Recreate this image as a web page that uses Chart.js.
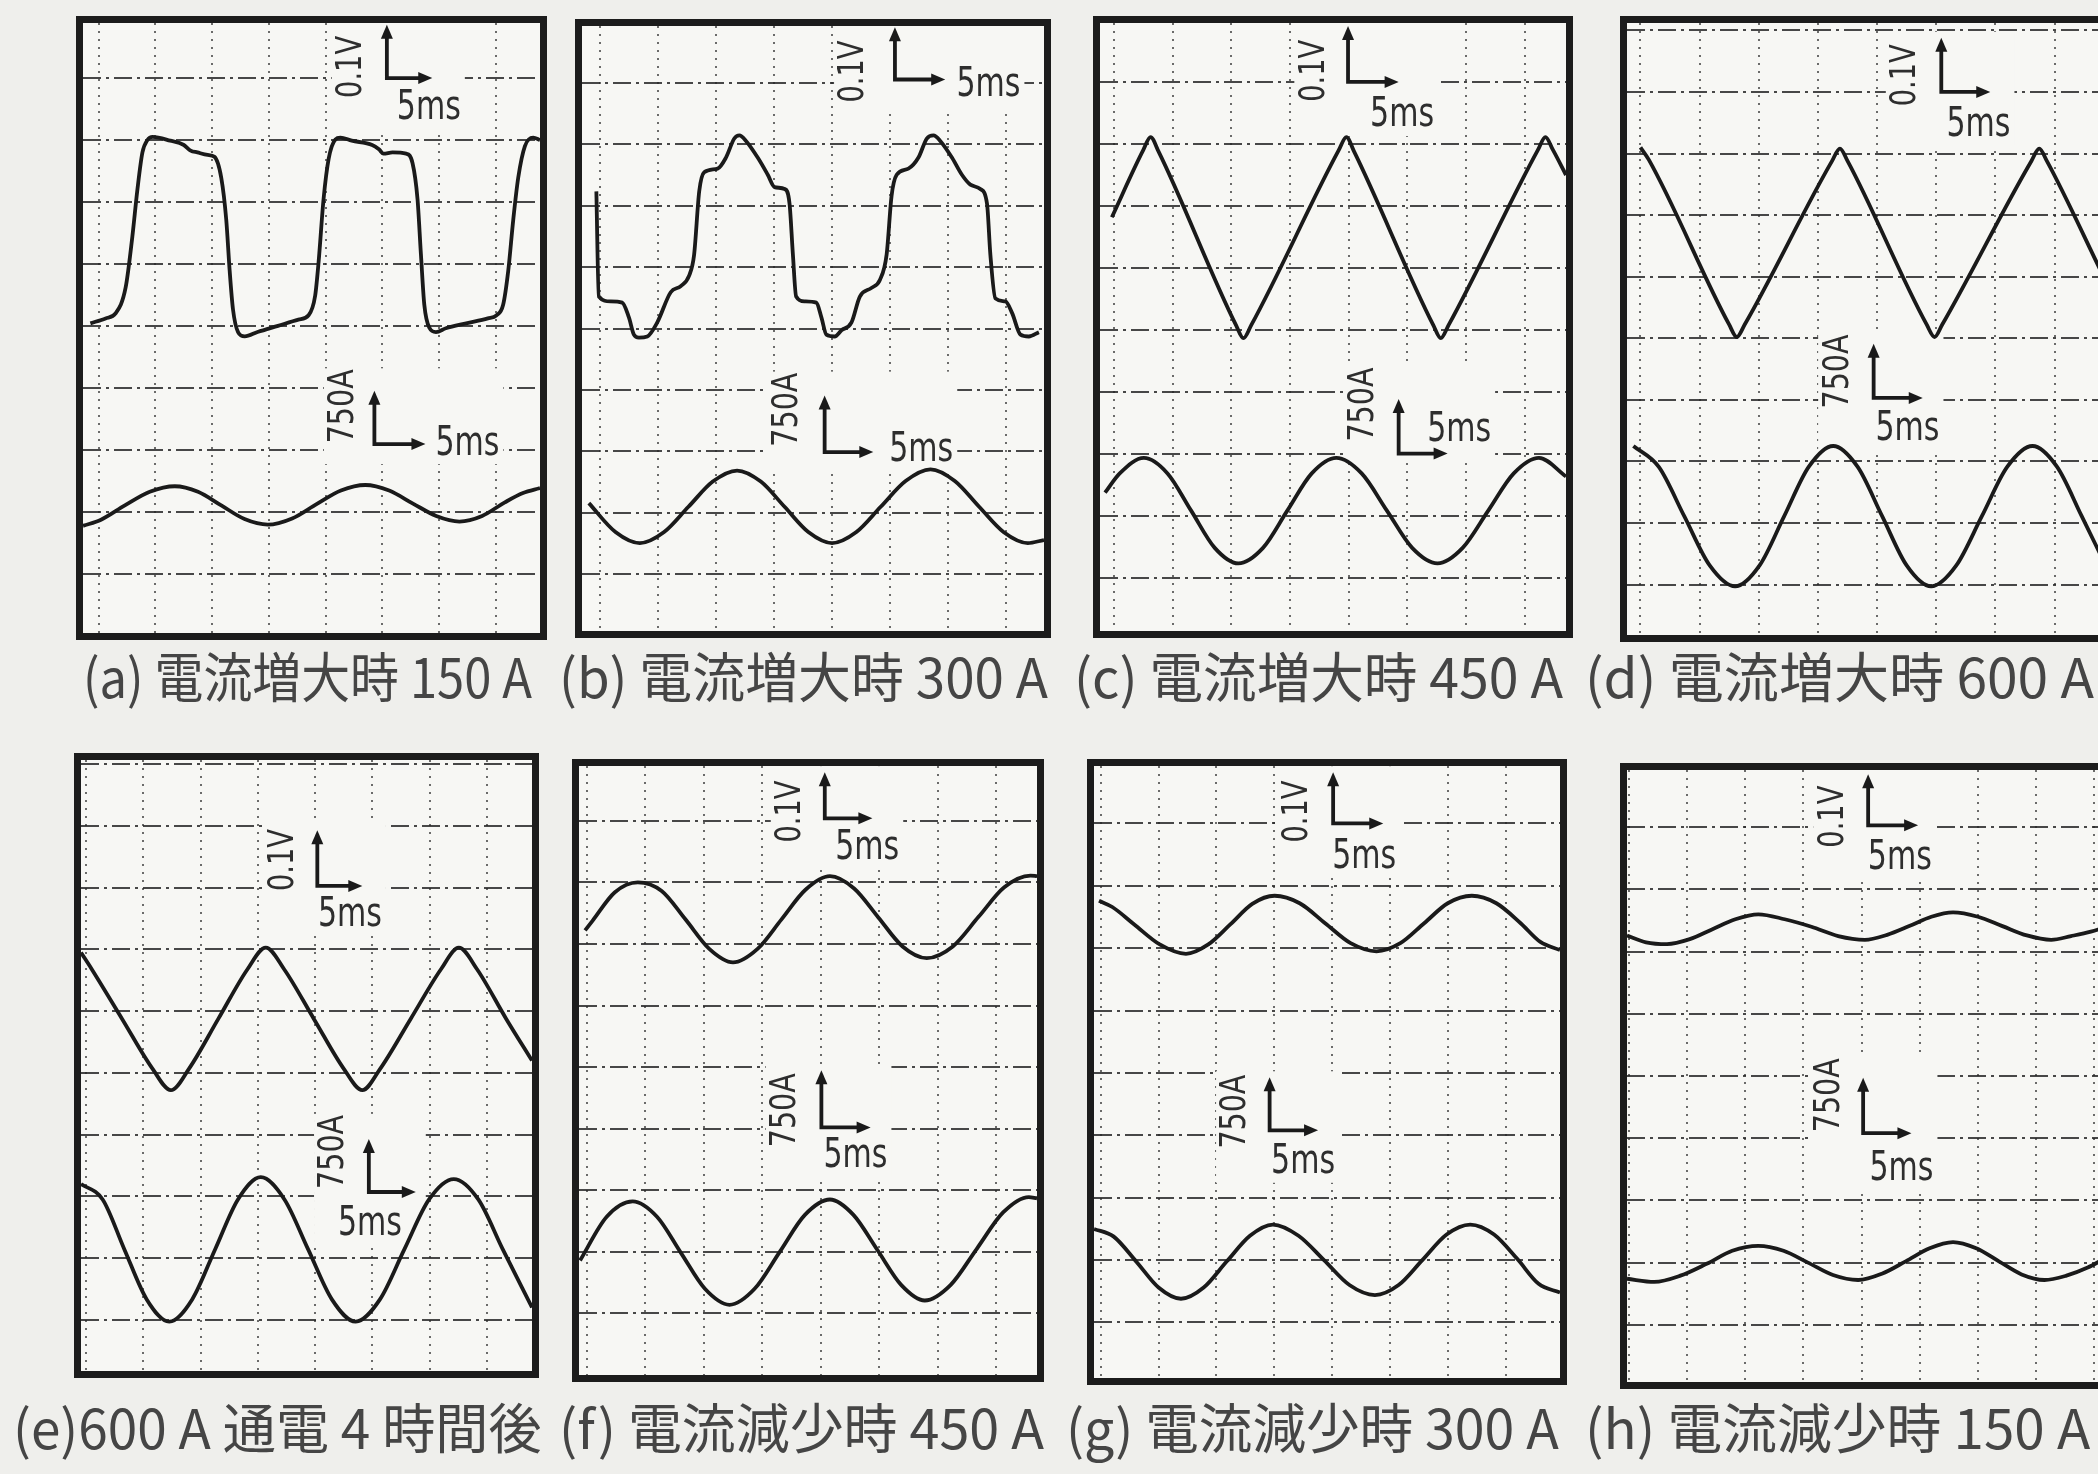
<!DOCTYPE html>
<html lang="ja">
<head>
<meta charset="utf-8">
<title>電流波形</title>
<script src="https://cdn.jsdelivr.net/npm/chart.js@4.4.1/dist/chart.umd.min.js"></script>
<style>
  html, body { margin: 0; padding: 0; }
  body { width: 2098px; height: 1474px; background: #efefec; position: relative; overflow: hidden; }
  .scope { position: absolute; box-sizing: border-box; border: 7px solid #1c1c1c; background: #f7f7f4; }
  .scope canvas { display: block; }
  .cap {
    position: absolute; white-space: nowrap; line-height: 1;
    font-family: "Noto Sans CJK JP", "Noto Sans CJK SC", sans-serif;
    font-size: 54px; font-weight: 400; color: #454545; transform-origin: left top;
  }
</style>
</head>
<body>
<script>
// time in ms, amplitude in screen divisions (0.1 V/div voltage, 750 A/div current)
const xTicks = [0, 5, 10, 15, 20, 25, 30, 35, 40];
const yTicks = [0, 1, 2, 3, 4, 5, 6, 7, 8, 9];

const captions = [
  '(a) 電流増大時 150 A', '(b) 電流増大時 300 A', '(c) 電流増大時 450 A', '(d) 電流増大時 600 A',
  '(e)600 A 通電 4 時間後', '(f) 電流減少時 450 A', '(g) 電流減少時 300 A', '(h) 電流減少時 150 A'
];

// (a) 150 A rising
const voltA = [[-0.74,4.04],[0.6,4.12],[1.48,4.2],[2.37,4.62],[2.96,5.44],[3.4,6.19],[3.85,6.8],[4.29,7.0],[4.75,7.05],
  [6.3,6.99],[7.5,6.92],[8.1,6.83],[8.7,6.8],[9.6,6.76],[10.2,6.73],[10.8,6.39],[11.24,5.71],[11.54,4.89],[11.83,4.27],
  [12.28,3.9],[12.87,3.83],[14.0,3.9],[15.8,4.0],[17.6,4.1],[18.5,4.17],[19.08,4.49],[19.38,5.03],[19.82,6.05],[20.27,6.7],
  [20.86,7.01],[21.3,7.04],[22.3,6.99],[24.1,6.92],[24.7,6.85],[25.1,6.78],[25.9,6.8],[27.1,6.78],[27.66,6.63],[28.1,6.05],
  [28.4,5.16],[28.7,4.34],[29.14,3.97],[29.73,3.9],[30.6,3.96],[32.4,4.04],[34.3,4.12],[35.06,4.17],[35.65,4.34],[36.1,4.89],
  [36.54,5.71],[36.98,6.39],[37.57,6.9],[38.3,7.04],[38.9,7.0]];
const ampA = [[-1.39,0.77],[0.2,0.87],[2.3,1.1],[4.5,1.32],[6.7,1.41],[8.75,1.32],[10.8,1.1],[12.85,0.88],[14.9,0.79],
  [17.05,0.89],[19.2,1.12],[21.35,1.34],[23.5,1.43],[25.6,1.34],[27.7,1.13],[29.75,0.93],[31.8,0.84],[33.8,0.93],
  [35.8,1.15],[37.4,1.3],[38.9,1.38]];

// (b) 300 A rising
const voltB = [[-0.35,6.23],[-0.14,4.52],[0.87,4.44],[1.88,4.42],[2.46,4.18],[2.89,3.9],[3.32,3.85],[4.05,3.87],[4.91,4.1],
  [6.07,4.59],[6.94,4.69],[7.66,4.86],[8.09,5.2],[8.53,6.23],[8.96,6.54],[10.12,6.6],[10.84,6.78],[11.56,7.09],[12.0,7.14],
  [12.57,7.05],[13.58,6.78],[14.45,6.5],[15.03,6.3],[15.9,6.27],[16.33,6.03],[16.62,5.2],[16.9,4.52],[17.63,4.44],[18.64,4.42],
  [19.08,4.18],[19.51,3.9],[20.23,3.87],[20.81,3.97],[21.68,4.1],[22.4,4.52],[23.41,4.66],[24.13,4.79],[24.71,5.2],[25.14,6.16],
  [25.58,6.5],[26.59,6.6],[27.46,6.78],[28.18,7.09],[28.76,7.14],[29.34,7.05],[30.35,6.78],[31.21,6.5],[31.94,6.34],[32.8,6.27],
  [33.38,6.03],[33.67,5.2],[34.1,4.49],[34.97,4.44],[35.55,4.25],[36.27,3.9],[36.99,3.87],[37.86,3.94]];
const ampB = [[-1.0,1.16],[1.3,0.69],[3.4,0.51],[5.5,0.69],[7.6,1.1],[9.7,1.51],[11.8,1.69],[13.85,1.51],[15.9,1.1],
  [17.95,0.69],[20.0,0.51],[22.1,0.69],[24.2,1.1],[26.35,1.52],[28.5,1.71],[30.6,1.52],[32.7,1.1],[34.8,0.69],
  [36.9,0.51],[38.3,0.56]];

// (c) 450 A rising
const voltC = [[-0.17,5.82],[2.5,6.9],[3.13,7.11],[3.8,6.88],[10.4,4.08],[11.03,3.87],[11.7,4.08],[19.15,6.9],[19.8,7.11],
  [20.45,6.88],[27.2,4.08],[27.84,3.87],[28.5,4.08],[36.1,6.9],[36.75,7.11],[37.4,6.9],[38.5,6.5]];
const ampC = [[-0.75,1.38],[0.5,1.69],[2.56,1.94],[4.57,1.69],[6.58,1.09],[8.59,0.49],[10.6,0.24],[12.7,0.49],[14.77,1.09],
  [16.85,1.69],[18.94,1.94],[21.1,1.69],[23.25,1.09],[25.4,0.49],[27.56,0.24],[29.7,0.49],[31.88,1.09],[34.05,1.69],
  [36.2,1.94],[38.5,1.64]];

// (d) 600 A rising
const voltD = [[0.0,7.1],[0.7,6.9],[7.5,4.22],[8.14,4.02],[8.8,4.22],[16.2,6.88],[16.86,7.08],[17.5,6.88],[24.2,4.22],
  [24.86,4.02],[25.5,4.22],[33.05,6.88],[33.71,7.08],[34.35,6.88],[39.1,5.02]];
const ampD = [[-0.6,2.25],[1.55,1.91],[3.7,1.11],[5.85,0.31],[8.0,-0.03],[10.07,0.31],[12.15,1.11],[14.22,1.91],
  [16.29,2.25],[18.36,1.91],[20.43,1.11],[22.5,0.31],[24.57,-0.03],[26.7,0.31],[28.86,1.11],[31.0,1.91],[33.14,2.25],
  [35.22,1.91],[37.3,1.11],[39.1,0.4]];

// (e) 600 A after 4 h
const voltE = [[-0.44,5.95],[0.5,5.68],[3.15,4.875],[5.8,4.07],[7.41,3.72],[9.0,4.07],[11.55,4.875],[14.1,5.68],[15.7,6.03],
  [17.3,5.68],[19.9,4.875],[22.5,4.07],[24.13,3.72],[25.7,4.07],[28.35,4.875],[31.0,5.68],[32.56,6.03],[34.15,5.68],
  [36.7,4.875],[38.95,4.2]];
const ampE = [[-0.44,2.2],[1.45,1.95],[3.35,1.14],[5.3,0.33],[7.27,-0.03],[9.27,0.33],[11.27,1.14],[13.27,1.95],
  [15.26,2.31],[17.33,1.95],[19.4,1.14],[21.47,0.33],[23.55,-0.03],[25.67,0.33],[27.8,1.14],[29.96,1.95],[32.12,2.28],
  [34.26,1.95],[36.4,1.14],[38.95,0.2]];

// (f) 450 A falling
const voltF = [[-0.15,6.22],[0.5,6.38],[2.4,6.84],[4.36,7.0],[6.4,6.86],[8.43,6.4],[10.47,5.92],[12.5,5.7],[14.6,5.92],
  [16.65,6.4],[18.7,6.88],[20.79,7.1],[22.86,6.9],[24.93,6.43],[27.0,5.96],[29.07,5.77],[31.3,5.96],[33.5,6.44],
  [35.7,6.92],[37.94,7.11],[38.5,7.1]];
const ampF = [[-0.58,0.86],[1.7,1.57],[3.92,1.82],[6.0,1.57],[8.06,0.98],[10.1,0.4],[12.2,0.14],[14.35,0.4],[16.5,1.0],
  [18.65,1.6],[20.79,1.85],[22.8,1.6],[24.85,1.03],[26.9,0.46],[28.9,0.21],[31.1,0.46],[33.35,1.05],[35.6,1.64],
  [37.8,1.89],[38.5,1.87]];

// (g) 300 A falling
const voltG = [[-0.15,6.76],[1.0,6.66],[2.9,6.38],[5.1,6.06],[7.37,5.91],[9.3,6.06],[11.2,6.38],[13.1,6.71],[15.03,6.84],
  [17.2,6.72],[19.4,6.4],[21.6,6.08],[23.84,5.95],[25.9,6.08],[27.96,6.4],[30.0,6.72],[32.08,6.84],[34.2,6.72],
  [36.3,6.4],[38.0,6.1],[39.7,5.97]];
const ampG = [[-0.58,1.5],[1.1,1.38],[3.1,0.97],[5.0,0.56],[6.94,0.38],[8.9,0.56],[10.9,0.98],[12.9,1.39],[14.88,1.57],
  [17.1,1.39],[19.3,1.0],[21.5,0.6],[23.7,0.44],[25.75,0.6],[27.8,1.0],[29.9,1.41],[31.94,1.57],[34.0,1.41],
  [36.0,1.02],[37.85,0.62],[39.7,0.48]];

// (h) 150 A falling
const voltH = [[-0.14,6.26],[1.5,6.15],[3.29,6.12],[5.25,6.2],[7.2,6.36],[9.17,6.52],[11.14,6.6],[13.4,6.52],[15.7,6.4],
  [18.0,6.25],[20.29,6.19],[22.2,6.27],[24.1,6.41],[26.0,6.56],[27.86,6.63],[30.0,6.56],[32.1,6.41],[34.2,6.26],
  [36.29,6.19],[38.0,6.25],[39.7,6.32],[40.74,6.38]];
const ampH = [[-0.14,0.74],[2.2,0.69],[4.45,0.79],[6.7,0.98],[8.9,1.19],[11.14,1.27],[13.3,1.19],[15.4,1.0],[17.55,0.8],
  [19.71,0.72],[21.75,0.82],[23.8,1.02],[25.85,1.23],[27.86,1.33],[29.85,1.23],[31.8,1.02],[33.75,0.81],[35.71,0.72],
  [37.6,0.79],[39.43,0.92],[40.74,1.05]];

// frame box on the page: left, top, width, height
const frames = [
  [76, 16, 471, 624], [575, 19, 476, 619], [1093, 16, 480, 622], [1620, 16, 490, 626],
  [74, 753, 465, 625], [572, 759, 472, 623], [1087, 759, 480, 626], [1620, 763, 490, 626]
];
// visible time / division window of each screen
const xRanges = [[-1.39, 38.9], [-1.59, 38.3], [-1.18, 38.5], [-1.14, 39.1],
  [-0.44, 38.95], [-0.67, 38.5], [-0.58, 39.7], [-0.14, 40.74]];
const yRanges = [[-0.96, 8.89], [-0.92, 8.92], [-0.85, 8.95], [-0.82, 9.12],
  [-0.83, 9.07], [-1.0, 8.89], [-0.89, 8.92], [-0.92, 8.92]];
// caption box: left, top, width
const capBoxes = [
  [83, 648, 449], [559, 648, 489], [1074, 648, 489], [1585, 648, 509],
  [13, 1399, 529], [559, 1399, 485], [1066, 1399, 493], [1585, 1399, 505]
];

// scale marks: corner, arrow tips, label anchors (in axis units)
const mk = (c, up, rt, v, vAt, tAt) => ({ c, up, rt, v, vAt, tAt });
const marks = [
  [mk([25.4, 8.0], 8.86, 29.4, '0.1V', [22.3, 8.18], [29.1, 7.5]), mk([24.3, 2.09], 2.95, 28.8, '750A', [21.6, 2.7], [32.5, 2.09])],
  [mk([25.43, 8.05], 8.9, 29.77, '0.1V', [21.9, 8.18], [33.5, 7.95]), mk([19.36, 1.99], 2.91, 23.56, '750A', [16.18, 2.68], [27.7, 2.02])],
  [mk([19.94, 8.0], 8.9, 24.25, '0.1V', [17.07, 8.18], [24.54, 7.45]), mk([24.25, 2.01], 2.89, 28.42, '750A', [21.24, 2.8], [29.4, 2.38])],
  [mk([25.43, 8.0], 8.88, 29.57, '0.1V', [22.43, 8.27], [28.57, 7.45]), mk([19.71, 3.03], 3.91, 23.86, '750A', [16.71, 3.46], [22.57, 2.52])],
  [mk([20.2, 7.03], 7.93, 24.13, '0.1V', [17.3, 7.45], [23.05, 6.55]), mk([24.7, 2.07], 2.93, 28.8, '750A', [21.66, 2.72], [24.8, 1.55])],
  [mk([20.35, 8.04], 8.79, 24.42, '0.1V', [17.44, 8.15], [23.98, 7.55]), mk([20.06, 3.02], 3.95, 24.27, '750A', [17.0, 3.3], [22.97, 2.54])],
  [mk([20.09, 8.0], 8.82, 24.42, '0.1V', [17.05, 8.19], [22.77, 7.45]), mk([14.6, 3.08], 3.93, 18.79, '750A', [11.7, 3.38], [17.49, 2.56])],
  [mk([20.57, 8.03], 8.85, 24.86, '0.1V', [17.57, 8.17], [23.29, 7.49]), mk([20.14, 3.08], 3.97, 24.29, '750A', [17.29, 3.69], [23.43, 2.5])]
];

// [voltage, current] for each screen
const traces = [[voltA, ampA], [voltB, ampB], [voltC, ampC], [voltD, ampD],
  [voltE, ampE], [voltF, ampF], [voltG, ampG], [voltH, ampH]];

const PAPER = '#f7f7f4';
const INK = '#1a1a1a';
const labelFont = size => size + 'px "Liberation Sans Narrow", "DejaVu Sans Condensed", "Liberation Sans", sans-serif';

function arrowHead(ctx, x, y, ang) {
  const L = 14, W = 6;
  ctx.beginPath();
  ctx.moveTo(x, y);
  ctx.lineTo(x - L * Math.cos(ang) + W * Math.sin(ang), y - L * Math.sin(ang) - W * Math.cos(ang));
  ctx.lineTo(x - L * Math.cos(ang) - W * Math.sin(ang), y - L * Math.sin(ang) + W * Math.cos(ang));
  ctx.closePath();
  ctx.fill();
}

// volt/div and time/div marks printed on the screen photo
const scopeMarks = {
  id: 'scopeMarks',
  beforeDatasetsDraw(chart, args, opts) {
    const { ctx, scales: { x, y } } = chart;
    ctx.save();
    ctx.fillStyle = PAPER;
    opts.marks.forEach(m => {
      const l = x.getPixelForValue(m.vAt[0]) - 20;
      const r = Math.max(x.getPixelForValue(m.tAt[0]) + 36, x.getPixelForValue(m.rt) + 10);
      const t = Math.min(y.getPixelForValue(m.up) - 6, y.getPixelForValue(m.vAt[1]) - 38);
      const b = Math.max(y.getPixelForValue(m.c[1]) + 8, y.getPixelForValue(m.tAt[1]) + 20, y.getPixelForValue(m.vAt[1]) + 38);
      ctx.fillRect(l, t, r - l, b - t);
    });
    ctx.restore();
  },
  afterDatasetsDraw(chart, args, opts) {
    const { ctx, scales: { x, y } } = chart;
    ctx.save();
    ctx.strokeStyle = INK;
    ctx.lineWidth = 3.8;
    opts.marks.forEach(m => {
      const cx = x.getPixelForValue(m.c[0]), cy = y.getPixelForValue(m.c[1]);
      const uy = y.getPixelForValue(m.up);
      const rx = x.getPixelForValue(m.rt);
      ctx.fillStyle = INK;
      ctx.beginPath();
      ctx.moveTo(cx, uy + 8);
      ctx.lineTo(cx, cy);
      ctx.lineTo(rx - 8, cy);
      ctx.stroke();
      arrowHead(ctx, cx, uy, -Math.PI / 2);
      arrowHead(ctx, rx, cy, 0);

      ctx.fillStyle = '#2e2e2e';
      ctx.textAlign = 'center';
      ctx.textBaseline = 'middle';
      // vertical unit, reads bottom to top
      ctx.save();
      ctx.translate(x.getPixelForValue(m.vAt[0]), y.getPixelForValue(m.vAt[1]));
      ctx.rotate(-Math.PI / 2);
      ctx.font = labelFont(36);
      ctx.fillText(m.v, 0, 0, m.v === '750A' ? 74 : 62);
      ctx.restore();
      ctx.font = labelFont(40);
      ctx.fillText('5ms', x.getPixelForValue(m.tAt[0]), y.getPixelForValue(m.tAt[1]), 64);
    });
    ctx.restore();
  }
};

const trace = pts => ({
  data: pts.map(([x, y]) => ({ x, y })),
  borderColor: INK,
  borderWidth: 3.8,
  pointRadius: 0,
  fill: false,
  cubicInterpolationMode: 'monotone'
});

const pickTicks = list => scale => {
  scale.ticks = list.filter(v => v >= scale.min && v <= scale.max).map(value => ({ value }));
};

frames.forEach((f, i) => {
  const box = document.createElement('div');
  box.className = 'scope';
  box.style.left = f[0] + 'px';
  box.style.top = f[1] + 'px';
  box.style.width = f[2] + 'px';
  box.style.height = f[3] + 'px';
  const cv = document.createElement('canvas');
  cv.width = f[2] - 14;
  cv.height = f[3] - 14;
  box.appendChild(cv);
  document.body.appendChild(box);

  new Chart(cv, {
    type: 'line',
    data: { datasets: [trace(traces[i][0]), trace(traces[i][1])] },
    plugins: [scopeMarks],
    options: {
      responsive: false,
      animation: false,
      events: [],
      layout: { padding: 0 },
      plugins: {
        legend: { display: false },
        tooltip: { enabled: false },
        scopeMarks: { marks: marks[i] }
      },
      scales: {
        x: {
          type: 'linear', min: xRanges[i][0], max: xRanges[i][1],
          ticks: { display: false },
          grid: { color: 'rgba(60,60,60,0.75)', lineWidth: 2, drawTicks: false },
          border: { display: false, dash: [2, 6] },
          afterBuildTicks: pickTicks(xTicks)
        },
        y: {
          type: 'linear', min: yRanges[i][0], max: yRanges[i][1],
          ticks: { display: false },
          grid: { color: 'rgba(40,40,40,0.85)', lineWidth: 2, drawTicks: false },
          border: { display: false, dash: [18, 5, 3, 5] },
          afterBuildTicks: pickTicks(yTicks)
        }
      }
    }
  });
});

// captions under each screen, squeezed to the printed width
captions.forEach((text, i) => {
  const el = document.createElement('div');
  el.className = 'cap';
  el.textContent = text;
  el.style.left = capBoxes[i][0] + 'px';
  el.style.top = capBoxes[i][1] + 'px';
  document.body.appendChild(el);
  el.style.transform = 'scaleX(' + (capBoxes[i][2] / el.offsetWidth) + ')';
});
</script>
</body>
</html>
